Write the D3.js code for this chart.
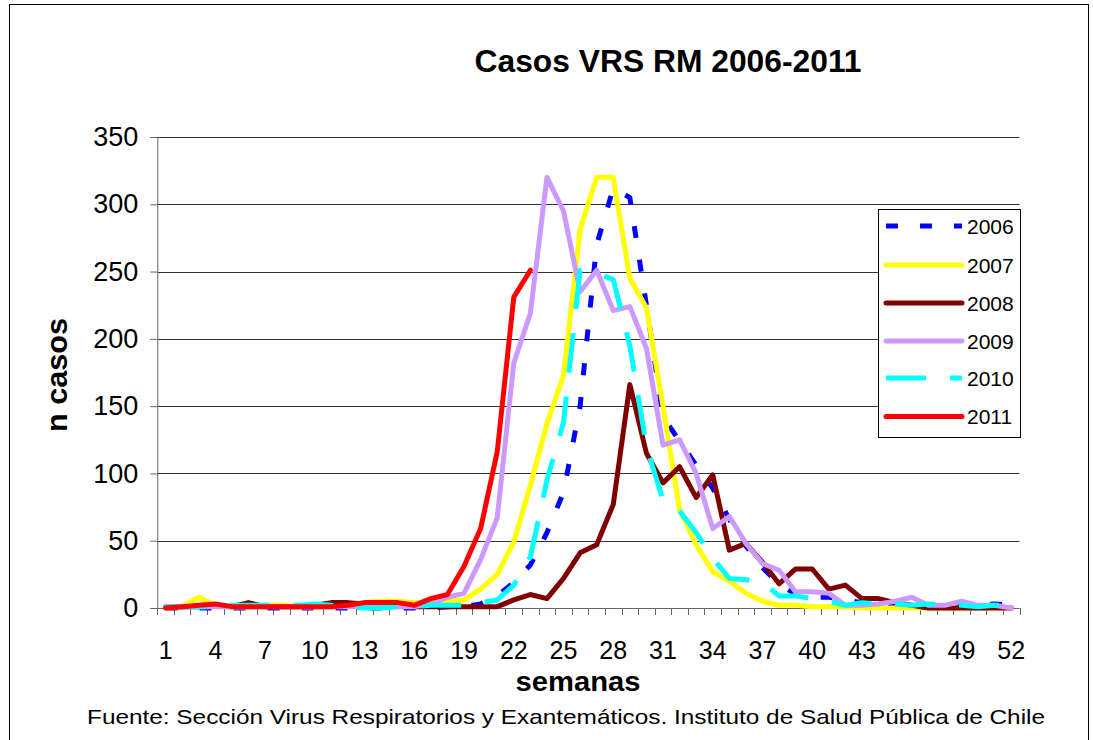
<!DOCTYPE html>
<html>
<head>
<meta charset="utf-8">
<script src="https://cdn.jsdelivr.net/npm/d3@7/dist/d3.min.js"></script>
<style>
  html, body { margin: 0; padding: 0; background: #fff; }
  svg { display: block; font-family: "Liberation Sans", Arial, sans-serif; }
</style>
</head>
<body>
<svg id="chart" width="1093" height="740"></svg>
<script>
// ---------- data ----------
const weeks = [1,2,3,4,5,6,7,8,9,10,11,12,13,14,15,16,17,18,19,20,21,22,23,24,25,26,
               27,28,29,30,31,32,33,34,35,36,37,38,39,40,41,42,43,44,45,46,47,48,49,50,51,52];
const xTickLabels = [1,4,7,10,13,16,19,22,25,28,31,34,37,40,43,46,49,52];
const yTickValues = [0,50,100,150,200,250,300,350];
const seriesNames = ["2006","2007","2008","2009","2010","2011"];

const s2006 = [0,0,0,0,0,0,0,0,0,0, 0,0,0,0,0,0,0,1,1,3,
               9,19,32,56,86,150,270,312,305,225, 142,124,106,89,66,46,30,18,10,8,
               8,6,4,3,2,2,2,2,2,2,3,2];
const s2007 = [0,1,8,2,1,1,2,2,1,1, 1,2,4,5,5,4,4,5,6,14,
               25,49,91,137,173,281,320,320,245,223, 150,73,47,27,20,11,5,2,2,1,
               1,1,0,0,0,0,0,0,0,0,0,0];
const s2008 = [1,1,1,2,1,4,1,1,1,2, 4,4,3,2,2,1,1,1,1,1,
               1,6,10,7,22,41,47,77,166,115, 93,105,82,99,43,48,34,18,29,29,
               14,17,7,7,4,2,0,0,0,0,0,0];
const s2009 = [1,1,1,1,1,1,1,1,1,1, 1,1,1,1,1,1,3,8,11,36,
               67,182,219,320,295,235,251,221,224,193, 121,125,100,59,68,48,33,28,12,12,
               11,2,2,3,5,8,2,2,5,2,2,0];
const s2010 = [1,1,1,1,2,2,2,2,2,3, 2,1,0,0,1,1,2,2,2,4,
               6,17,38,95,138,251,249,244,195,120, 80,72,56,37,22,21,19,9,9,7,
               5,2,4,3,3,2,3,2,2,1,2,2];
const s2011 = [0,1,2,3,1,1,1,1,1,1, 1,2,4,4,4,2,7,10,31,59,
               116,231,251];

const seriesValues = [s2006, s2007, s2008, s2009, s2010, s2011];
const seriesColors = ["#0000FF","#FFFF00","#800000","#CC99FF","#00FFFF","#FF0000"];
const seriesDash   = ["12,22", null, null, null, "40,24", null];

// ---------- layout ----------
const svg = d3.select("#chart");
const plot = {left: 157.3, right: 1019.5, top: 137, bottom: 608};

const x = d3.scaleBand().domain(weeks).range([plot.left, plot.right]).padding(0);
const xc = w => x(w) + x.bandwidth() / 2;
const y = d3.scaleLinear().domain([0, 350]).range([plot.bottom, plot.top]);

// outer border
svg.append("rect").attr("x", 9.5).attr("y", 4.5).attr("width", 1079).attr("height", 800)
   .attr("fill", "none").attr("stroke", "#000").attr("stroke-width", 1);

// title
svg.append("text").attr("x", 668).attr("y", 72).attr("text-anchor", "middle")
   .attr("font-size", 32).attr("font-weight", "bold")
   .attr("textLength", 387).attr("lengthAdjust", "spacingAndGlyphs")
   .text("Casos VRS RM 2006-2011");

// gridlines
svg.append("g").selectAll("line").data(yTickValues.filter(v => v > 0)).join("line")
   .attr("x1", plot.left).attr("x2", plot.right)
   .attr("y1", d => Math.round(y(d)) + 0.5).attr("y2", d => Math.round(y(d)) + 0.5)
   .attr("stroke", "#333").attr("stroke-width", 1);

// y axis
const yAxis = svg.append("g").attr("transform", `translate(${plot.left},0)`)
   .call(d3.axisLeft(y).tickValues(yTickValues).tickSize(7).tickPadding(12).tickFormat(d3.format("d")));
yAxis.select(".domain").attr("stroke", "#666");
yAxis.selectAll(".tick line").attr("stroke", "#666");
yAxis.selectAll("text").attr("font-size", 27).attr("font-family", "Liberation Sans, Arial, sans-serif")
     .attr("fill", "#000");

// x axis line
svg.append("line").attr("x1", plot.left).attr("x2", plot.right)
   .attr("y1", plot.bottom + 0.5).attr("y2", plot.bottom + 0.5).attr("stroke", "#666");
// x ticks at category boundaries
const boundaries = weeks.map(w => x(w)).concat([plot.right]);
svg.append("g").selectAll("line").data(boundaries).join("line")
   .attr("x1", d => Math.round(d) + 0.5).attr("x2", d => Math.round(d) + 0.5)
   .attr("y1", plot.bottom).attr("y2", plot.bottom + 7).attr("stroke", "#666");
// x labels
svg.append("g").selectAll("text").data(xTickLabels).join("text")
   .attr("x", d => xc(d)).attr("y", 659).attr("text-anchor", "middle")
   .attr("font-size", 25).text(d => d);

// axis titles
svg.append("text").attr("x", 578).attr("y", 691).attr("text-anchor", "middle")
   .attr("font-size", 27).attr("font-weight", "bold")
   .attr("textLength", 125).attr("lengthAdjust", "spacingAndGlyphs").text("semanas");
svg.append("text").attr("transform", "translate(67,375) rotate(-90)").attr("text-anchor", "middle")
   .attr("font-size", 30).attr("font-weight", "bold")
   .attr("textLength", 114).attr("lengthAdjust", "spacingAndGlyphs").text("n casos");

// footer
svg.append("text").attr("x", 566).attr("y", 724).attr("text-anchor", "middle")
   .attr("font-size", 21).attr("textLength", 958).attr("lengthAdjust", "spacingAndGlyphs")
   .text("Fuente: Sección Virus Respiratorios y Exantemáticos. Instituto de Salud Pública de Chile");

// series lines
const line = d3.line().x((d, i) => xc(weeks[i])).y(d => y(d));
const gLines = svg.append("g");
seriesValues.forEach((vals, k) => {
  gLines.append("path").datum(vals)
    .attr("d", line)
    .attr("fill", "none")
    .attr("stroke", seriesColors[k])
    .attr("stroke-width", 5)
    .attr("stroke-linejoin", "round")
    .attr("stroke-linecap", seriesDash[k] ? "butt" : "round")
    .attr("stroke-dasharray", seriesDash[k]);
});

// legend
const lg = svg.append("g");
lg.append("rect").attr("x", 878.5).attr("y", 209.5).attr("width", 142).attr("height", 228)
  .attr("fill", "#fff").attr("stroke", "#000").attr("stroke-width", 1);
const legY = [226, 265, 303, 341, 378, 416.5];
seriesNames.forEach((name, k) => {
  lg.append("line").attr("x1", 886).attr("x2", 962).attr("y1", legY[k]).attr("y2", legY[k])
    .attr("stroke", seriesColors[k]).attr("stroke-width", 5)
    .attr("stroke-linecap", seriesDash[k] ? "butt" : "round")
    .attr("stroke-dasharray", seriesDash[k]);
  lg.append("text").attr("x", 967).attr("y", legY[k] + 7.5).attr("font-size", 21).text(name);
});
</script>
</body>
</html>
